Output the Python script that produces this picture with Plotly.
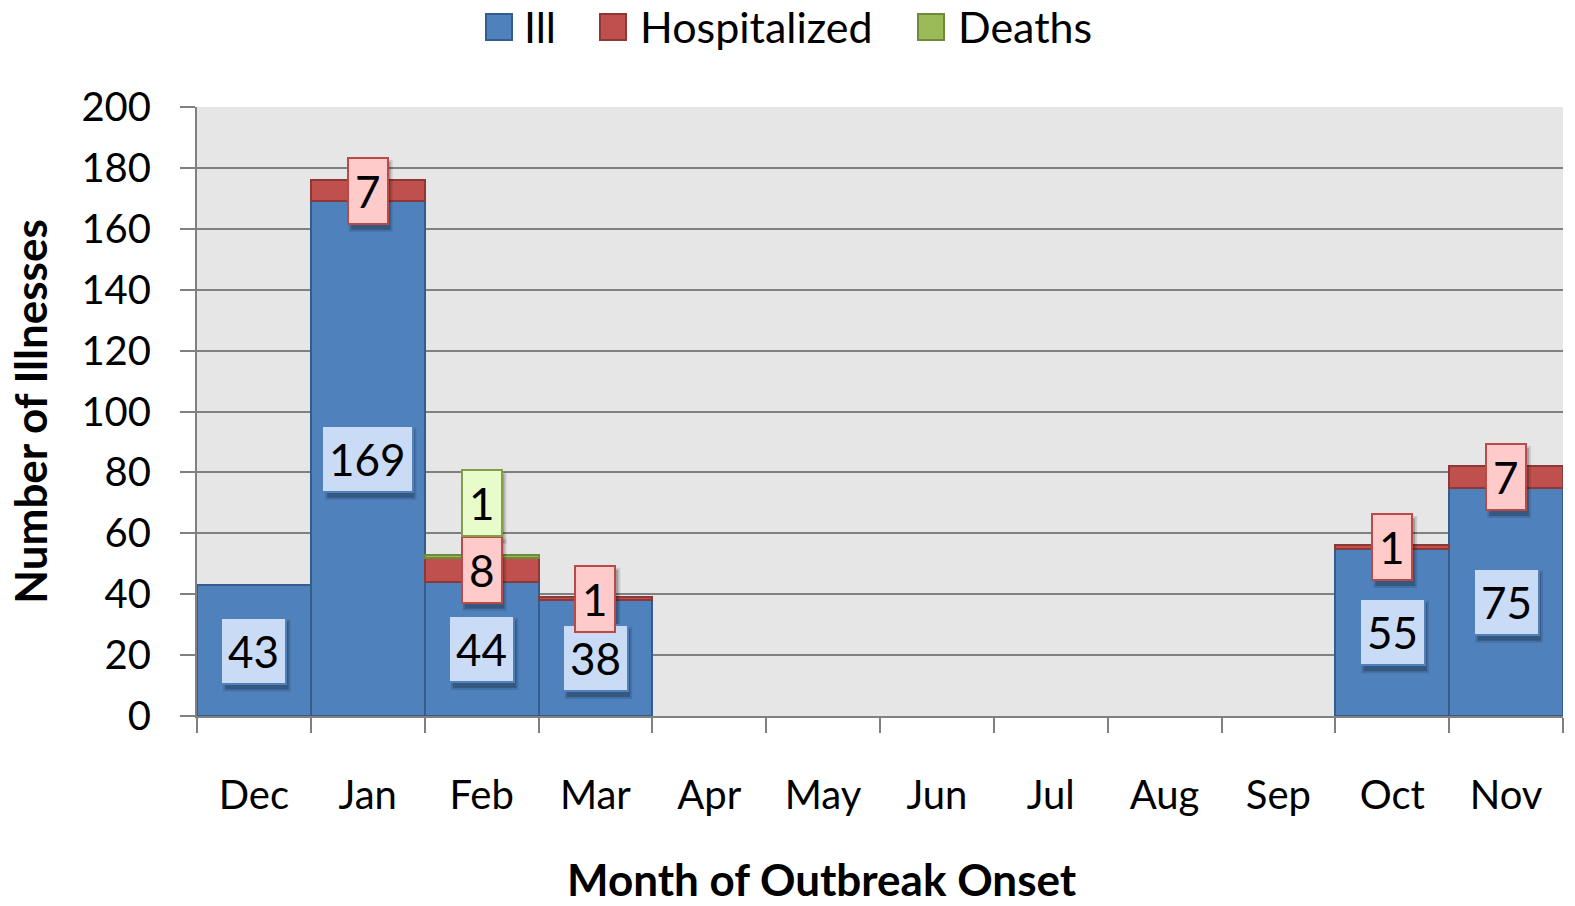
import plotly.graph_objects as go

months = ["Dec", "Jan", "Feb", "Mar", "Apr", "May", "Jun", "Jul", "Aug", "Sep", "Oct", "Nov"]
ill = [43, 169, 44, 38, 0, 0, 0, 0, 0, 0, 55, 75]
hospitalized = [0, 7, 8, 1, 0, 0, 0, 0, 0, 0, 1, 7]
deaths = [0, 0, 1, 0, 0, 0, 0, 0, 0, 0, 0, 0]
y_ticks = [0, 20, 40, 60, 80, 100, 120, 140, 160, 180, 200]

FONT = "Lato"
FS = 40
LFS = 44  # data label font size
PAD = 6

series = [
    ("Ill", ill, "#4F81BD", "#345C8C", "#C9DBF5", "#4F81BD"),
    ("Hospitalized", hospitalized, "#C0504D", "#8C3836", "#FFCACA", "#B94A48"),
    ("Deaths", deaths, "#9BBB59", "#6E8A3A", "#E8FBCB", "#7FA047"),
]

fig = go.Figure()
for name, vals, fill, line, _, _ in series:
    fig.add_trace(go.Bar(
        name=name, x=months, y=[v if v else None for v in vals],
        marker=dict(color=fill, line=dict(color=line, width=2)),
        showlegend=False,
    ))

annotations = []
shapes = []


def label(idx, yc, text, bg, border):
    w = len(text) * 0.54 * LFS + 2 * PAD + 4
    h = 1.18 * LFS + 2 * PAD + 4
    # soft drop shadow (pixel-sized shape anchored at the label)
    for grow, alpha in ((2, 0.12), (0, 0.22)):
        shapes.append(dict(
            type="rect", xref="x", yref="y", xsizemode="pixel", ysizemode="pixel",
            xanchor=idx, yanchor=yc,
            x0=-w / 2 + 3 - grow, x1=w / 2 + 3 + grow,
            y0=-h / 2 - 5 - grow, y1=h / 2 - 5 + grow,
            fillcolor=f"rgba(0,0,0,{alpha})", line=dict(width=0), layer="above",
        ))
    annotations.append(dict(
        x=months[idx], y=yc, xref="x", yref="y", text=text, showarrow=False,
        font=dict(family=FONT, size=LFS, color="black"),
        bgcolor=bg, bordercolor=border, borderwidth=2, borderpad=PAD,
    ))


for i, m in enumerate(months):
    base = 0
    for name, vals, _, _, lbg, lbd in series:
        v = vals[i]
        if v:
            if name == "Deaths":
                yc = base + v + 17
            else:
                yc = base + v / 2
            label(i, yc, str(v), lbg, lbd)
        base += v

# manual legend
leg_items = [("Ill", 486, 524), ("Hospitalized", 600, 640), ("Deaths", 918, 958)]
W, H = 1575, 906
L, R, T, B = 197, 12, 107, 190
pw, ph = W - L - R, H - T - B


def px_x(px):
    return (px - L) / pw


def px_y(py):
    return (H - B - py) / ph


for (name, sx, tx), (_, _, fill, line, _, _) in zip(leg_items, series):
    shapes.append(dict(type="rect", xref="paper", yref="paper",
                       x0=px_x(sx), x1=px_x(sx + 26), y0=px_y(40), y1=px_y(14),
                       fillcolor=fill, line=dict(color=line, width=2)))
    annotations.append(dict(x=px_x(tx - 2), y=px_y(26), xref="paper", yref="paper",
                            text=name, showarrow=False, xanchor="left", yanchor="middle",
                            font=dict(family=FONT, size=43, color="black")))

annotations.append(dict(x=px_x(822), y=px_y(879), xref="paper", yref="paper",
                        text="<b>Month of Outbreak Onset</b>", showarrow=False,
                        xanchor="center", yanchor="middle",
                        font=dict(family=FONT, size=44, color="black")))

fig.update_layout(
    barmode="stack", bargap=0,
    width=W, height=H,
    margin=dict(l=L, r=R, t=T, b=B, autoexpand=False),
    paper_bgcolor="white", plot_bgcolor="#E6E6E6",
    font=dict(family=FONT, size=FS, color="black"),
    annotations=annotations, shapes=shapes,
    showlegend=False,
)
fig.update_xaxes(
    range=[-0.5, 11.5], tickson="boundaries", ticks="outside", ticklen=15,
    tickwidth=2, tickcolor="#808080", showline=True, linecolor="#808080", linewidth=2,
    showgrid=False, ticklabelstandoff=43, tickfont=dict(size=FS), automargin=False,
)
fig.update_yaxes(
    range=[0, 200], tickvals=y_ticks, ticks="outside", ticklen=15, tickwidth=2,
    tickcolor="#808080", showline=True, linecolor="#808080", linewidth=2,
    showgrid=True, gridcolor="#808080", gridwidth=2, zeroline=False,
    ticklabelstandoff=21, tickfont=dict(size=FS), automargin=False,
    title=dict(text="<b>Number of Illnesses</b>", font=dict(size=44), standoff=20),
)

fig.write_html("out.html", config={"displayModeBar": False},
               post_script="document.body.style.margin='0';document.body.style.overflow='hidden';")
